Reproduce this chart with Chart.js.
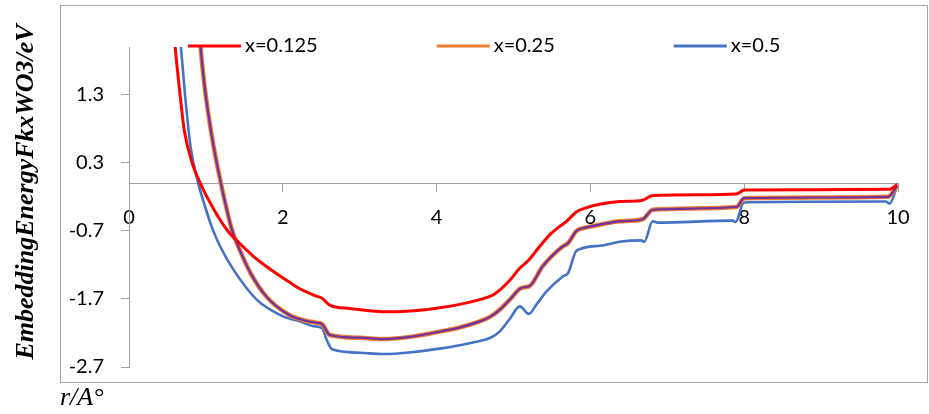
<!DOCTYPE html>
<html>
<head>
<meta charset="utf-8">
<script src="https://cdn.jsdelivr.net/npm/chart.js@4.4.0/dist/chart.umd.min.js"></script>
<style>
    html, body { margin: 0; padding: 0; background: #fff; }
    #wrap { width: 929px; height: 414px; }
</style>
</head>
<body>
<div id="wrap"><canvas id="chart" width="929" height="414"></canvas></div>
<script>
    // series labels
    var seriesLabels = ['x=0.125', 'x=0.25', 'x=0.5'];

    // x=0.125 (r in Å, embedding energy in eV)
    var rX0125 = [0.55, 0.60, 0.666, 0.718, 0.818, 0.926, 1.121, 1.29, 1.445, 1.614, 1.796, 2.094, 2.22, 2.44, 2.51, 2.61, 2.87, 3.39, 3.75, 4.04, 4.30, 4.56, 4.72, 4.82, 4.95, 5.08, 5.19, 5.34, 5.47, 5.56, 5.69, 5.82, 5.95, 6.12, 6.38, 6.68, 6.81, 7.42, 7.90, 8.00, 9.89, 9.99];
    var eX0125 = [2.7, 2.0, 1.28, 0.78, 0.31, 0.0, -0.42, -0.71, -0.89, -1.07, -1.23, -1.46, -1.55, -1.66, -1.69, -1.79, -1.84, -1.89, -1.87, -1.83, -1.78, -1.71, -1.65, -1.57, -1.43, -1.25, -1.14, -0.93, -0.76, -0.67, -0.56, -0.42, -0.36, -0.31, -0.27, -0.25, -0.18, -0.17, -0.16, -0.10, -0.09, -0.02];

    // x=0.25
    var rX025 = [0.88, 0.93, 0.98, 1.03, 1.10, 1.195, 1.27, 1.34, 1.44, 1.58, 1.79, 2.09, 2.30, 2.44, 2.51, 2.61, 3.0, 3.31, 3.70, 4.04, 4.30, 4.56, 4.70, 4.82, 4.96, 5.10, 5.21, 5.38, 5.50, 5.64, 5.71, 5.82, 5.95, 6.12, 6.38, 6.68, 6.81, 7.90, 8.00, 9.87, 9.99];
    var eX025 = [2.7, 2.0, 1.45, 1.03, 0.54, 0.0, -0.38, -0.69, -0.98, -1.32, -1.67, -1.94, -2.02, -2.05, -2.07, -2.23, -2.27, -2.29, -2.25, -2.18, -2.12, -2.03, -1.96, -1.86, -1.70, -1.54, -1.51, -1.22, -1.07, -0.93, -0.88, -0.70, -0.65, -0.61, -0.56, -0.53, -0.39, -0.35, -0.22, -0.20, -0.04];

    // x=0.5
    var rX05 = [0.63, 0.675, 0.73, 0.80, 0.90, 0.991, 1.082, 1.186, 1.358, 1.66, 2.01, 2.22, 2.40, 2.51, 2.57, 2.64, 3.0, 3.31, 3.70, 4.04, 4.30, 4.52, 4.70, 4.82, 4.96, 5.08, 5.20, 5.30, 5.43, 5.64, 5.71, 5.82, 6.12, 6.38, 6.66, 6.70, 6.81, 6.88, 7.85, 7.89, 7.99, 8.05, 9.84, 9.89, 9.99];
    var eX05 = [2.7, 2.0, 1.28, 0.54, 0.0, -0.35, -0.66, -0.93, -1.27, -1.71, -1.96, -2.03, -2.10, -2.13, -2.30, -2.44, -2.49, -2.51, -2.48, -2.43, -2.38, -2.33, -2.27, -2.18, -1.98, -1.81, -1.92, -1.78, -1.59, -1.37, -1.32, -0.99, -0.92, -0.86, -0.84, -0.86, -0.56, -0.58, -0.55, -0.57, -0.29, -0.28, -0.27, -0.30, -0.04];

    // axis ticks
    var yTicks = [-2.7, -1.7, -0.7, 0.3, 1.3];
    var xTickStep = 2;

    var tickFont = { family: 'Lato', size: 20 };
    var axisGrey = '#A0A0A0';

    function toPoints(r, e) {
        return r.map(function(v, i) { return { x: v, y: e[i] }; });
    }

    function curve(label, r, e, color, width, order, inLegend) {
        return {
            label: label,
            data: toPoints(r, e),
            borderColor: color,
            backgroundColor: color,
            borderWidth: width,
            pointRadius: 0,
            showLine: true,
            cubicInterpolationMode: 'monotone',
            order: order,
            inLegend: inLegend
        };
    }

    // frame, legend and axis titles drawn like the Excel layout
    var decorations = {
        id: 'decorations',
        beforeDraw: function(chart) {
            var ctx = chart.ctx;
            ctx.save();
            ctx.strokeStyle = '#A6A6A6';
            ctx.lineWidth = 1;
            ctx.strokeRect(60.5, 5.5, 867, 377);
            ctx.restore();
        },
        afterDraw: function(chart) {
            var ctx = chart.ctx;
            var area = chart.chartArea;
            ctx.save();

            // legend
            ctx.font = '20px Lato';
            ctx.textBaseline = 'middle';
            ctx.textAlign = 'left';
            var x = area.left + 59;
            var y = area.top - 1;
            chart.data.datasets.forEach(function(ds) {
                if (!ds.inLegend) return;
                ctx.strokeStyle = ds.borderColor;
                ctx.lineWidth = 3;
                ctx.beginPath();
                ctx.moveTo(x, y);
                ctx.lineTo(x + 53, y);
                ctx.stroke();
                ctx.fillStyle = '#000';
                ctx.fillText(ds.label, x + 57, y);
                x += 57 + ctx.measureText(ds.label).width + 119;
            });

            // y title
            ctx.fillStyle = '#000';
            ctx.font = 'italic bold 26px "Liberation Serif"';
            ctx.textAlign = 'center';
            ctx.translate(26, 192);
            ctx.rotate(-Math.PI / 2);
            ctx.fillText('EmbeddingEnergyFkxWO3/eV', 0, 0);
            ctx.restore();

            // x title
            ctx.save();
            ctx.fillStyle = '#000';
            ctx.font = 'italic 26px "Liberation Serif"';
            ctx.textAlign = 'left';
            ctx.textBaseline = 'middle';
            ctx.fillText('r/A\u00B0', 60, 398);
            ctx.restore();
        }
    };

    var ctx = document.getElementById('chart').getContext('2d');
    new Chart(ctx, {
        type: 'scatter',
        data: {
            datasets: [
                curve(seriesLabels[0], rX0125, eX0125, '#FF0000', 3, 1, true),
                curve(seriesLabels[1], rX025, eX025, '#ED7D31', 4.5, 3, true),
                curve('', rX025, eX025, '#7030A0', 2.2, 2, false),
                curve(seriesLabels[2], rX05, eX05, '#4472C4', 2.6, 4, true)
            ]
        },
        options: {
            responsive: false,
            animation: false,
            layout: {
                padding: { left: 0, top: 47, right: 31, bottom: 47 }
            },
            plugins: {
                legend: { display: false },
                tooltip: { enabled: false }
            },
            scales: {
                x: {
                    type: 'linear',
                    min: 0,
                    max: 10,
                    position: { y: 0 },
                    ticks: {
                        stepSize: xTickStep,
                        font: tickFont,
                        color: '#000',
                        padding: 14
                    },
                    grid: {
                        drawOnChartArea: false,
                        tickLength: 8,
                        color: axisGrey
                    },
                    border: { color: axisGrey, width: 1 }
                },
                y: {
                    type: 'linear',
                    min: -2.7,
                    max: 2.0,
                    afterBuildTicks: function(scale) {
                        scale.ticks = yTicks.map(function(v) { return { value: v }; });
                    },
                    afterFit: function(scale) {
                        scale.width = 129;
                    },
                    ticks: {
                        font: tickFont,
                        color: '#000',
                        padding: 17,
                        callback: function(v) { return v.toFixed(1); }
                    },
                    grid: {
                        drawOnChartArea: false,
                        tickLength: 8,
                        color: axisGrey
                    },
                    border: { color: axisGrey, width: 1 }
                }
            }
        },
        plugins: [decorations]
    });
</script>
</body>
</html>
